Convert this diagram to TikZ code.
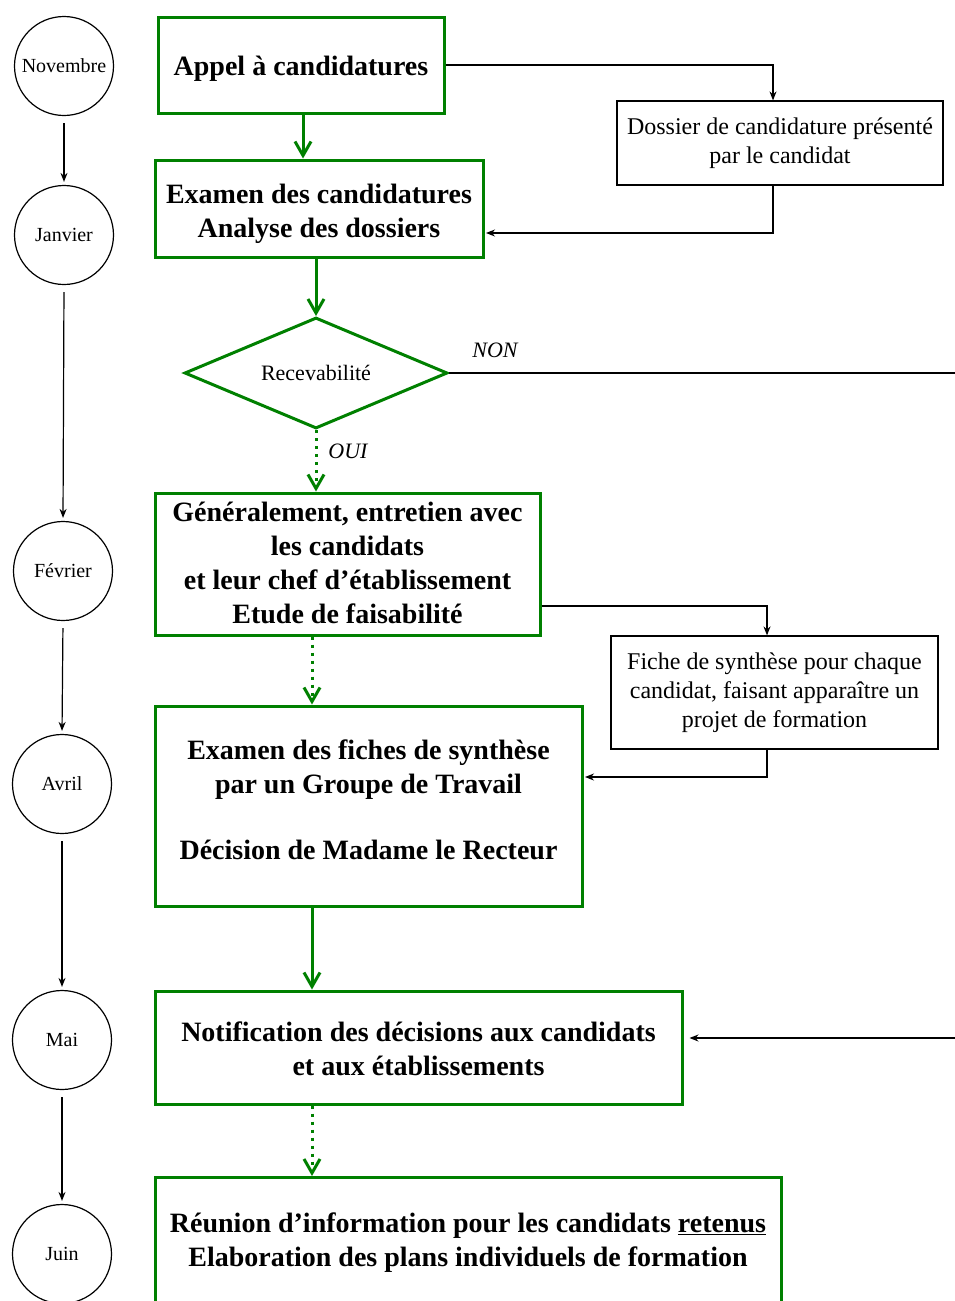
\documentclass[tikz,border=0pt]{standalone}
\usepackage{fontspec}
\setmainfont{Liberation Serif}
\usetikzlibrary{arrows.meta, shapes.geometric, calc}

\definecolor{vert}{RGB}{0,128,0}

\tikzset{
  mois/.style={draw, circle, line width=1.2pt, minimum size=99pt, inner sep=0pt, font=\fontsize{20}{24}\selectfont},
  etape/.style={draw=vert, line width=3pt, inner sep=0pt},
  etapetxt/.style={inner sep=0pt, align=center, font=\bfseries\fontsize{28}{34}\selectfont},
  annexe/.style={draw, line width=1.2pt, inner sep=0pt, align=center, font=\fontsize{24}{29}\selectfont},
  test/.style={draw=vert, diamond, aspect=2.3, line width=3pt, inner sep=0pt, font=\fontsize{22}{26}\selectfont},
  suite/.style={draw=vert, line width=3pt, -{Straight Barb[length=14pt,width=16pt]}},
  suitepts/.style={suite, dash pattern=on 3pt off 5pt},
  lien/.style={draw, line width=1.2pt, -{Stealth[length=9pt,width=7pt]}},
  reponse/.style={font=\itshape\fontsize{22}{26}\selectfont}
}

\begin{document}
\begin{tikzpicture}[x=1pt, y=-1pt]
        \clip (0,0) rectangle (955,1301);
        
        % mois
        \node[mois] (nov) at (64,66) {Novembre};
        \node[mois] (jan) at (64,235) {Janvier};
        \node[mois] (fev) at (63,571) {Février};
        \node[mois] (avr) at (62,784) {Avril};
        \node[mois] (mai) at (62,1040) {Mai};
        \node[mois] (juin) at (62,1254) {Juin};
        
        \foreach \a/\b in {nov/jan, jan/fev, fev/avr, avr/mai, mai/juin}
            \draw[lien, shorten <=7pt, shorten >=3pt] (\a.south) -- (\b.north);
        
        % etapes
        \node[etape, minimum width=286pt, minimum height=96pt] (appel) at (301,65) {};
        \node[etapetxt] (appeltxt) at (301,69) {Appel à candidatures};
        \node[etape, minimum width=328pt, minimum height=97pt] (examen) at (319,208.5) {};
        \node[etapetxt] (examentxt) at (319,213.5) {Examen des candidatures\\Analyse des dossiers};
        \node[test, minimum width=263pt, minimum height=111pt] (recev) at (316,373) {Recevabilité};
        \node[etape, minimum width=385pt, minimum height=142pt] (entretien) at (347.5,564) {};
        \node[etapetxt] (entretientxt) at (347.5,563) {Généralement, entretien avec\\les candidats\\et leur chef d’établissement\\Etude de faisabilité};
        \node[etape, minimum width=427pt, minimum height=200pt] (fiches) at (368.5,806) {};
        \node[etapetxt] (fichestxt) at (368.5,800) {Examen des fiches de synthèse\\par un Groupe de Travail\\[32pt]Décision de Madame le Recteur};
        \node[etape, minimum width=527pt, minimum height=113pt] (notif) at (418.5,1047.5) {};
        \node[etapetxt] (notiftxt) at (418.5,1049) {Notification des décisions aux candidats\\et aux établissements};
        \node[etape, minimum width=626pt, minimum height=170pt, anchor=north] (reunion) at (468,1176) {};
        \node[etapetxt] (reuniontxt) at (468,1243) {Réunion d’information pour les candidats \underline{retenus}\\Elaboration des plans individuels de formation};
        
        % annexes
        \node[annexe, minimum width=326pt, minimum height=84pt] (dossier) at (780,143) {Dossier de candidature présenté\\par le candidat};
        \node[annexe, minimum width=327pt, minimum height=113pt] (synthese) at (774.5,692.5) {Fiche de synthèse pour chaque\\candidat, faisant apparaître un\\projet de formation};
        
        \coordinate (axeA) at (303,0);
        \coordinate (axeB) at (316,0);
        \coordinate (axeC) at (312,0);
        \coordinate (axeD) at (773,0);
        \coordinate (axeE) at (767,0);
        \coordinate (yA) at (0,233);
        \coordinate (yB) at (0,606);
        \coordinate (yC) at (0,777);
        \coordinate (bordA) at (955,375);
        \coordinate (bordB) at (955,1038);
        
        \draw[suite] (appel.south -| axeA) -- (examen.north -| axeA);
        \draw[suite] (examen.south -| axeB) -- (recev.north);
        \draw[suitepts] (recev.south) -- (entretien.north -| axeB);
        \draw[suitepts] (entretien.south -| axeC) -- (fiches.north -| axeC);
        \draw[suite] (fiches.south -| axeC) -- (notif.north -| axeC);
        \draw[suitepts] (notif.south -| axeC) -- (reunion.north -| axeC);
        
        \draw[lien] (appel.east) -| (dossier.north -| axeD);
        \draw[lien, shorten >=1.5pt] (dossier.south -| axeD) |- (examen.east |- yA);
        \draw[lien] (entretien.east |- yB) -| (synthese.north -| axeE);
        \draw[lien, shorten >=1.5pt] (synthese.south -| axeE) |- (fiches.east |- yC);
        \draw[line width=1.2pt] (recev.east) -- (recev.east -| bordA);
        \draw[lien, shorten >=6pt] (bordB) -- (notif.east |- bordB);
        
        \node[reponse] (non) at (495,350) {NON};
        \node[reponse] (oui) at (348,451) {OUI};
        
\end{tikzpicture}
\end{document}
